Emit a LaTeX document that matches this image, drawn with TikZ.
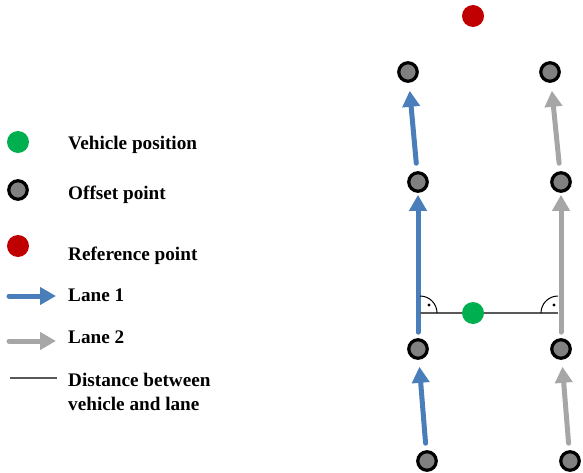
\documentclass[tikz,border=0pt]{standalone}
\usepackage{fontspec}
\setmainfont{Liberation Serif}
\usetikzlibrary{arrows.meta}
\definecolor{laneblue}{HTML}{4A7EBB}
\definecolor{lanegray}{HTML}{A6A6A6}
\definecolor{vgreen}{HTML}{00B050}
\definecolor{rred}{HTML}{C00000}
\definecolor{ptgray}{HTML}{808080}
\definecolor{distline}{HTML}{595959}
\begin{document}
\begin{tikzpicture}[x=1pt,y=-1pt,
  offpt/.style={circle,draw=black,line width=3.2pt,fill=ptgray,minimum size=18.5pt,inner sep=0pt},
  vehpt/.style={circle,fill=vgreen,minimum size=22pt,inner sep=0pt},
  refpt/.style={circle,fill=rred,minimum size=22pt,inner sep=0pt},
  lane1/.style={draw=laneblue,line width=5pt,line cap=round,-{Triangle[length=16pt,width=17pt]}},
  lane2/.style={draw=lanegray,line width=5pt,line cap=round,-{Triangle[length=16pt,width=17pt]}},
  dist/.style={draw=distline,line width=1.4pt},
  label/.style={anchor=base west,font=\bfseries\fontsize{19.2}{23.4}\selectfont,inner sep=0pt},
  ang/.style={draw=black,line width=1pt}
]
\useasboundingbox (0,0) rectangle (583,473);
% reference point
\node[refpt] (ref) at (473,16) {};
% offset points lane 1
\node[offpt] (a1) at (408,72) {};
\node[offpt] (a2) at (418,182) {};
\node[offpt] (a3) at (418,349) {};
\node[offpt] (a4) at (427,461) {};
% offset points lane 2
\node[offpt] (b1) at (550,72) {};
\node[offpt] (b2) at (561,182) {};
\node[offpt] (b3) at (561,349) {};
\node[offpt] (b4) at (570,461) {};
% lane arrows
\draw[lane1,shorten <=8pt,shorten >=8pt] (a2) -- (a1);
\draw[lane1,shorten <=6pt,shorten >=2pt] (a3) -- (a2);
\draw[lane1,shorten <=7pt,shorten >=7pt] (a4) -- (a3);
\draw[lane2,shorten <=8pt,shorten >=8pt] (b2) -- (b1);
\draw[lane2,shorten <=6pt,shorten >=2pt] (b3) -- (b2);
\draw[lane2,shorten <=7pt,shorten >=7pt] (b4) -- (b3);
% distance line
\coordinate (pl) at (420,313);
\coordinate (pr) at (558,313);
\draw[dist] (pl) -- (pr);
\node[vehpt] (veh) at (473,313) {};
% right angle marks
\draw[ang] ([xshift=17pt]pl) arc[start angle=0,end angle=90,radius=17pt];
\fill ([xshift=9pt,yshift=8pt]pl) circle[radius=1.6pt];
\draw[ang] ([xshift=-17pt]pr) arc[start angle=180,end angle=90,radius=17pt];
\fill ([xshift=-4pt,yshift=8pt]pr) circle[radius=1.6pt];
% legend
\node[vehpt] (lg1) at (18,142) {};
\node[offpt] (lg2) at (18,190) {};
\node[refpt] (lg3) at (18,246) {};
\coordinate (l4a) at (9,296); \coordinate (l4b) at (56,296);
\draw[lane1] (l4a) -- (l4b);
\coordinate (l5a) at (9,341); \coordinate (l5b) at (56,341);
\draw[lane2] (l5a) -- (l5b);
\coordinate (l6a) at (10,378); \coordinate (l6b) at (57,378);
\draw[dist] (l6a) -- (l6b);
\node[label] (t1) at (68,149.3) {Vehicle position};
\node[label] (t2) at (68,200) {Offset point};
\node[label] (t3) at (68,260) {Reference point};
\node[label] (t4) at (68,301.7) {Lane 1};
\node[label] (t5) at (68,343) {Lane 2};
\node[label,align=left] (t6) at (68,410) {Distance between\\vehicle and lane};
\end{tikzpicture}
\end{document}
